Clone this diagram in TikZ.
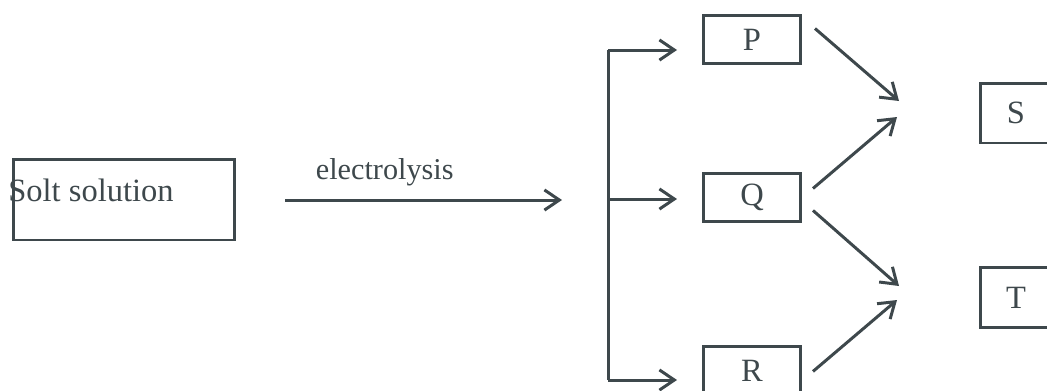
\documentclass[tikz,border=0pt]{standalone}
\usepackage{fontspec}
\setmainfont{Liberation Serif}
\usepackage{tikz}
\usetikzlibrary{arrows.meta, positioning, calc}
\usepackage{xcolor}
\definecolor{lineGray}{RGB}{62, 72, 76}

\begin{document}
\begin{tikzpicture}[
    x=0.02cm, y=-0.02cm,
    % Node styles
    box/.style={
        rectangle,
        draw=lineGray,
        line width=1.7pt,
        minimum width=1.94cm,
        minimum height=0.96cm,
        inner sep=0pt,
        text=lineGray,
        font=\fontsize{18.5}{20}\selectfont
    },
    % Arrow style
    arrow/.style={
        -{Straight Barb[length=8.5pt, width=11.5pt]},
        line width=1.7pt,
        draw=lineGray
    },
    % Label style
    annot/.style={
        inner sep=0pt,
        text=lineGray,
        font=\fontsize{#1}{20}\selectfont
    }
]
\useasboundingbox (0,0) rectangle (1047,390);

% ============================================
% LEFT: SOURCE
% ============================================
\node[box, minimum width=4.44cm, minimum height=1.62cm] (salt) at (124,199.5) {};
\node[annot=18.5, anchor=base west] (saltlabel) at (8,201) {Solt solution};

% ============================================
% MIDDLE: PRODUCTS
% ============================================
\node[box] (P) at (752,39.5) {P};
\node[box, below=2.14cm of P] (Q) {Q};
\node[box, below=2.44cm of Q] (R) {R};

% ============================================
% RIGHT: FINAL PRODUCTS
% ============================================
\node[box, minimum width=1.44cm, minimum height=1.2cm] (S) at (1016,113) {S};
\node[box, minimum width=1.44cm, minimum height=1.2cm, below=2.44cm of S] (T) {T};

% ============================================
% COORDINATES - free ends
% ============================================
\coordinate (elstart) at (285,200);
\coordinate (elend)   at (562,200);
\coordinate (brtop) at (608,50);
\coordinate (brmid) at (608,199);
\coordinate (brbot) at (608,380);
\coordinate (toS1) at (899,101);
\coordinate (toS2) at (897,117);
\coordinate (toT1) at (899,286);
\coordinate (toT2) at (897,300);

% ============================================
% ARROWS - Main Flow
% ============================================

% Electrolysis
\draw[arrow] (elstart) -- (elend)
    node[annot=17.2, pos=0.36, above=7pt] (ellabel) {electrolysis};

% Splitting bracket
\draw[line width=1.7pt, draw=lineGray] (brtop) -- (brbot);
\draw[arrow] (brtop) -- ++(69,0);
\draw[arrow] (brmid) -- ++(69,0);
\draw[arrow] (brbot) -- ++(69,0);

% P, Q -> S
\draw[arrow] ($(P.east)+(13,-11)$) -- (toS1);
\draw[arrow] ($(Q.east)+(11,-9)$) -- (toS2);

% Q, R -> T
\draw[arrow] ($(Q.east)+(11,13)$) -- (toT1);
\draw[arrow] ($(R.east)+(11,1)$) -- (toT2);

\end{tikzpicture}
\end{document}
